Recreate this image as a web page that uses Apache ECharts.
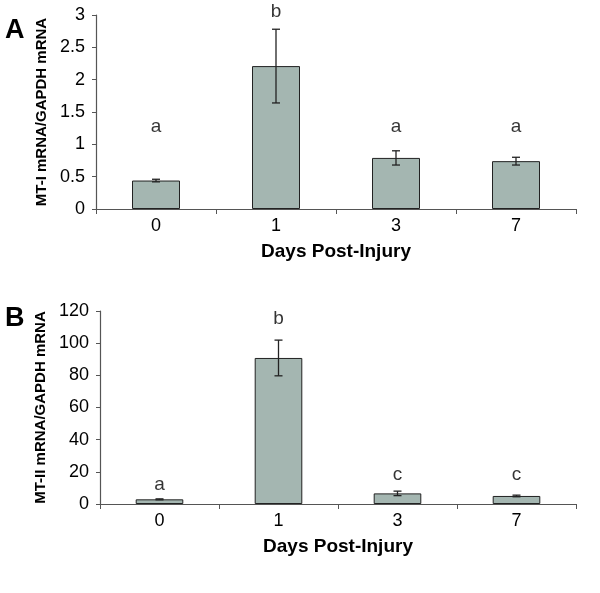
<!DOCTYPE html>
<html><head><meta charset="utf-8">
<script src="https://cdn.jsdelivr.net/npm/echarts@6/dist/echarts.min.js"></script>
<style>html,body{margin:0;padding:0;background:#fff}#c{width:600px;height:593px}</style>
</head><body><div id="c"></div>
<script>
var categories = ['0', '1', '3', '7'];
var mt1Values = [0.44, 2.21, 0.79, 0.74];
var mt1Errors = [0.02, 0.57, 0.11, 0.06];
var mt1Letters = ['a', 'b', 'a', 'a'];
var mt1LetterY = [1.27, 3.05, 1.27, 1.27];
var mt2Values = [2.9, 90.8, 6.6, 5.0];
var mt2Errors = [0.3, 11.1, 1.4, 0.5];
var mt2Letters = ['a', 'b', 'c', 'c'];
var mt2LetterY = [11.8, 115, 18, 18];
var mt1Ticks = [0, 0.5, 1, 1.5, 2, 2.5, 3];
var mt2Ticks = [0, 20, 40, 60, 80, 100, 120];

var FONT = '"Liberation Sans", Arial, sans-serif';
var axisColor = '#555';
var barColor = '#a4b6b1';

function errSeries(idx, vals, errs) {
  return {
    type: 'custom', xAxisIndex: idx, yAxisIndex: idx, z: 5,
    data: vals.map(function (v, i) { return [i, v - errs[i], v + errs[i]]; }),
    renderItem: function (params, api) {
      var lo = api.coord([api.value(0), api.value(1)]);
      var hi = api.coord([api.value(0), api.value(2)]);
      var w = 4;
      var st = { stroke: '#222', lineWidth: 1.3 };
      return { type: 'group', children: [
        { type: 'line', shape: { x1: lo[0], y1: lo[1], x2: hi[0], y2: hi[1] }, style: st },
        { type: 'line', shape: { x1: lo[0] - w, y1: lo[1], x2: lo[0] + w, y2: lo[1] }, style: st },
        { type: 'line', shape: { x1: hi[0] - w, y1: hi[1], x2: hi[0] + w, y2: hi[1] }, style: st }
      ] };
    }
  };
}
function letterSeries(idx, letters, ys) {
  return {
    type: 'scatter', xAxisIndex: idx, yAxisIndex: idx, clip: false, symbolSize: 0,
    data: letters.map(function (l, i) { return { value: [i, ys[i]], name: l }; }),
    label: { show: true, position: 'inside', formatter: function (p) { return p.name; },
      color: '#000', fontSize: 19, fontFamily: FONT },
    silent: true
  };
}
function xAx(idx) {
  return {
    type: 'category', gridIndex: idx, data: categories,
    name: 'Days Post-Injury', nameLocation: 'middle', nameGap: 33,
    nameTextStyle: { fontSize: 19, fontWeight: 'bold', color: '#000', fontFamily: FONT },
    axisLine: { lineStyle: { color: axisColor, width: 1.2 } },
    axisTick: { show: true, length: 5, lineStyle: { color: axisColor } },
    axisLabel: { color: '#000', fontSize: 18, fontFamily: FONT, margin: 8 },
    splitLine: { show: false }
  };
}
function yAx(idx, name, ticks) {
  return {
    type: 'value', gridIndex: idx, min: ticks[0], max: ticks[ticks.length - 1],
    interval: ticks[1] - ticks[0],
    name: name, nameLocation: 'middle', nameGap: 45, nameRotate: 90,
    nameTextStyle: { fontSize: 15, fontWeight: 'bold', color: '#000', fontFamily: FONT },
    axisLine: { show: true, lineStyle: { color: axisColor, width: 1.2 } },
    axisTick: { show: true, length: 4, lineStyle: { color: axisColor } },
    axisLabel: { color: '#000', fontSize: 18, fontFamily: FONT, margin: 11 },
    splitLine: { show: false }
  };
}
function barSeries(idx, vals) {
  return {
    type: 'bar', xAxisIndex: idx, yAxisIndex: idx, data: vals, barWidth: '40%',
    itemStyle: { color: barColor, borderColor: '#222', borderWidth: 1 }
  };
}

var chart = echarts.init(document.getElementById('c'));
chart.setOption({
  animation: false,
  title: [
    { text: 'A', left: 0, top: 12, textStyle: { fontSize: 27, fontWeight: 'bold', color: '#000', fontFamily: FONT } },
    { text: 'B', left: 0, top: 300, textStyle: { fontSize: 27, fontWeight: 'bold', color: '#000', fontFamily: FONT } }
  ],
  grid: [
    { left: 96, right: 24, top: 15, height: 194 },
    { left: 100, right: 24, top: 311, height: 193 }
  ],
  xAxis: [xAx(0), xAx(1)],
  yAxis: [yAx(0, 'MT-I mRNA/GAPDH mRNA', mt1Ticks), yAx(1, 'MT-II mRNA/GAPDH mRNA', mt2Ticks)],
  series: [
    barSeries(0, mt1Values), errSeries(0, mt1Values, mt1Errors), letterSeries(0, mt1Letters, mt1LetterY),
    barSeries(1, mt2Values), errSeries(1, mt2Values, mt2Errors), letterSeries(1, mt2Letters, mt2LetterY)
  ]
});
</script></body></html>
